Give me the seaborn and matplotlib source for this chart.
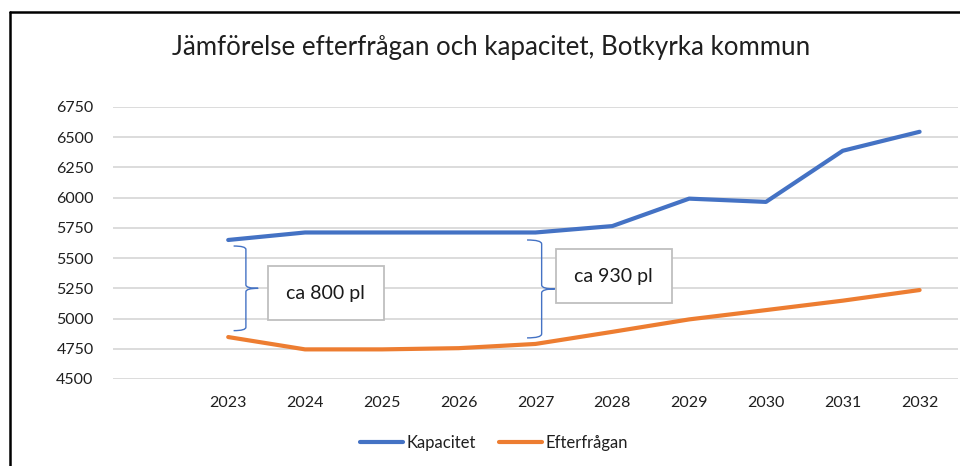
import numpy as np
import pandas as pd
import matplotlib
matplotlib.use("Agg")
import matplotlib.pyplot as plt
from matplotlib.path import Path
from matplotlib.patches import PathPatch
from matplotlib.lines import Line2D
import seaborn as sns

# data
years = [2023, 2024, 2025, 2026, 2027, 2028, 2029, 2030, 2031, 2032]
kapacitet = [5650, 5712, 5712, 5712, 5712, 5765, 5992, 5965, 6388, 6545]
efterfragan = [4847, 4745, 4745, 4755, 4790, 4890, 4993, 5070, 5148, 5236]
series_names = ['Kapacitet', 'Efterfrågan']
colors = ['#4472C4', '#ED7D31']
title = 'Jämförelse efterfrågan och kapacitet, Botkyrka kommun'
gap_labels = ['ca 800 pl', 'ca 930 pl']
y_ticks = [4500, 4750, 5000, 5250, 5500, 5750, 6000, 6250, 6500, 6750]

df = pd.DataFrame({
    'år': years * 2,
    'värde': kapacitet + efterfragan,
    'serie': [series_names[0]] * len(years) + [series_names[1]] * len(years),
})

sns.set_style('white')
plt.rcParams['font.family'] = ['Lato', 'DejaVu Sans']

fig = plt.figure(figsize=(9.6, 4.66), dpi=100)
ax = fig.add_axes([113 / 960, 1 - 379 / 466, (958 - 113) / 960, (379 - 107) / 466])

sns.lineplot(data=df, x='år', y='värde', hue='serie', palette=colors,
             linewidth=3, ax=ax, legend=False, solid_capstyle='round')

# category axis with an empty first slot, like the original
ax.set_xlim(2021.5, 2032.5)
ax.set_ylim(4500, 6750)
ax.set_xticks(years)
ax.set_xticklabels([str(y) for y in years])
ax.set_yticks(y_ticks)
ax.set_xlabel('')
ax.set_ylabel('')
ax.tick_params(axis='both', length=0, labelsize=11.5, colors='#1f1f1f')
ax.tick_params(axis='y', pad=14)
ax.tick_params(axis='x', pad=12)
ax.yaxis.grid(True, color='#d9d9d9', linewidth=1.3)
ax.set_axisbelow(True)
for s in ax.spines.values():
    s.set_visible(False)


def brace(ax, x, ytop, ybot, width, tip, color='#4472C4'):
    # right curly brace "}" between ytop and ybot
    ymid = (ytop + ybot) / 2
    h = (ytop - ybot) * 0.04
    verts = [
        (x - width, ytop), (x, ytop), (x, ytop - h),
        (x, ymid + h),
        (x, ymid), (x + tip, ymid),
        (x, ymid), (x, ymid - h),
        (x, ybot + h),
        (x, ybot), (x - width, ybot),
    ]
    codes = [Path.MOVETO, Path.CURVE3, Path.CURVE3,
             Path.LINETO,
             Path.CURVE3, Path.CURVE3,
             Path.CURVE3, Path.CURVE3,
             Path.LINETO,
             Path.CURVE3, Path.CURVE3]
    ax.add_patch(PathPatch(Path(verts, codes), fill=False, edgecolor=color,
                           linewidth=1.0, clip_on=False))


brace(ax, 2023.23, 5600, 4900, 0.16, 0.16)
brace(ax, 2027.08, 5650, 4840, 0.19, 0.17)

box = dict(boxstyle='square,pad=0.95', facecolor='white', edgecolor='#bfbfbf', linewidth=1.3)
ax.text(2024.27, 5211, gap_labels[0], fontsize=14, ha='center', va='center', color='#1a1a1a', bbox=box)
ax.text(2028.02, 5352, gap_labels[1], fontsize=14, ha='center', va='center', color='#1a1a1a', bbox=box)

fig.text(491 / 960, 1 - 47 / 466, title, fontsize=18.6, ha='center', va='center', color='#1f1f1f')

handles = [Line2D([0], [0], color=c, linewidth=3, solid_capstyle='round') for c in colors]
fig.legend(handles, series_names, loc='center', bbox_to_anchor=(494 / 960, 1 - 443 / 466),
           ncol=2, frameon=False, fontsize=12, handlelength=2.6, handletextpad=0.2,
           columnspacing=1.4, labelcolor='#1f1f1f')

# black frame on top and left edge
fig.add_artist(Line2D([10 / 960, 1], [1 - 12 / 466, 1 - 12 / 466], color='black', linewidth=1.8,
                      transform=fig.transFigure))
fig.add_artist(Line2D([10 / 960, 10 / 960], [0, 1 - 12 / 466], color='black', linewidth=1.8,
                      transform=fig.transFigure))

fig.savefig('out.png', dpi=100)
